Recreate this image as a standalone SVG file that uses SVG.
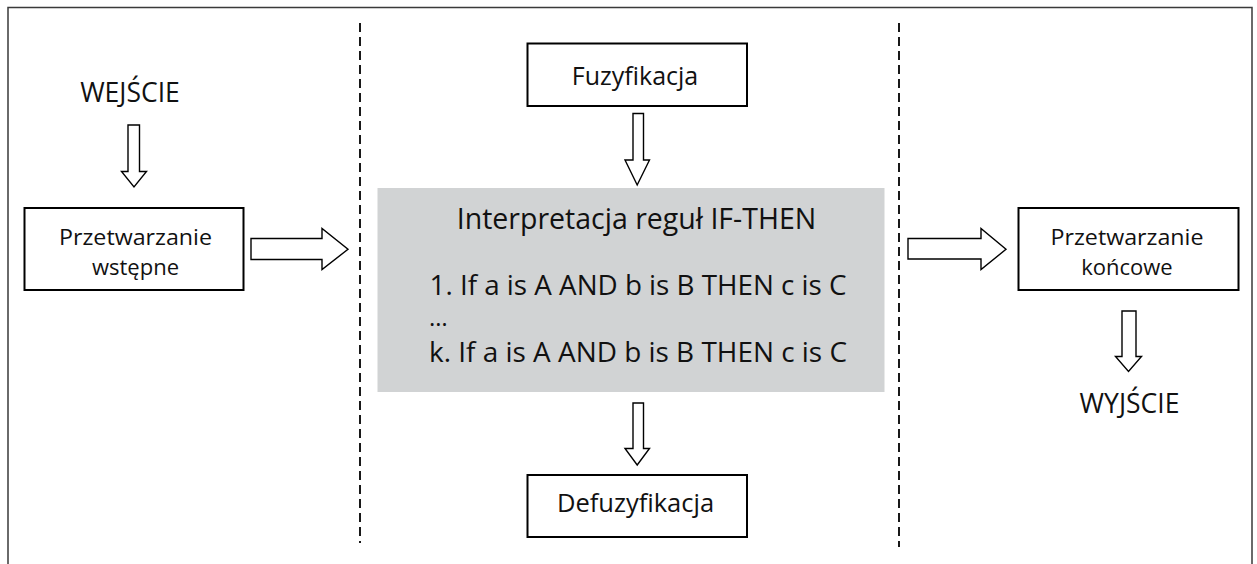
<svg xmlns="http://www.w3.org/2000/svg" width="1257" height="564" viewBox="0 0 1257 564">
<style>
text{font-family:"Open Sans","Noto Sans","DejaVu Sans",sans-serif;fill:#111;}
.box{fill:#fff;stroke:#000;stroke-width:2;}
.arr{fill:#fff;stroke:#000;stroke-width:1.4;stroke-linejoin:miter;}
.dash{stroke:#000;stroke-width:1.8;stroke-dasharray:9 5;fill:none;}
.c{text-anchor:middle;}
.p{font-size:22px;}
</style>
<rect x="0" y="0" width="1257" height="564" fill="#fff"/>
<path d="M8,564 V7.5 H1252 V564" fill="none" stroke="#3a3a3a" stroke-width="1.5"/>
<g id="separators">
<line class="dash" x1="360" y1="23" x2="360" y2="543"/>
<line class="dash" x1="899" y1="23" x2="899" y2="547"/>
</g>
<g id="wejscie"><text class="c" x="130" y="102" font-size="26.5">WEJŚCIE</text></g>
<g id="przetwarzanie-wstepne">
<rect class="box" x="24.5" y="208" width="219" height="82"/>
<text class="c p" x="135.5" y="244.5" textLength="153" lengthAdjust="spacingAndGlyphs">Przetwarzanie</text>
<text class="c p" x="135.5" y="274.5">wstępne</text>
</g>
<g id="fuzyfikacja">
<rect class="box" x="527.5" y="43.5" width="219.5" height="62.5"/>
<text class="c" x="635" y="84.5" font-size="25">Fuzyfikacja</text>
</g>
<g id="interpretacja">
<rect x="377.5" y="188" width="507" height="204" fill="#d1d3d4"/>
<text class="c" x="636.5" y="229" font-size="28.5">Interpretacja reguł IF-THEN</text>
<text x="429.5" y="295" font-size="28" textLength="417" lengthAdjust="spacingAndGlyphs">1. If a is A AND b is B THEN c is C</text>
<text x="429" y="326" font-size="24">…</text>
<text x="429" y="362" font-size="28" textLength="418" lengthAdjust="spacingAndGlyphs">k. If a is A AND b is B THEN c is C</text>
</g>
<g id="defuzyfikacja">
<rect class="box" x="527.5" y="475" width="219.5" height="62"/>
<text class="c" x="635.5" y="512" font-size="25.5">Defuzyfikacja</text>
</g>
<g id="przetwarzanie-koncowe">
<rect class="box" x="1018.5" y="208" width="220" height="82"/>
<text class="c p" x="1127" y="244.5" textLength="153" lengthAdjust="spacingAndGlyphs">Przetwarzanie</text>
<text class="c p" x="1127" y="274.5">końcowe</text>
</g>
<g id="wyjscie"><text class="c" x="1129.5" y="412.5" font-size="26.5">WYJŚCIE</text></g>
<g id="connectors">
<path class="arr" d="M128,125 H139.5 V171.5 H146.5 L134,187 L121.5,171.5 H128 Z"/>
<path class="arr" d="M251,238.5 H322 V228.5 L348,249.3 L322,269.5 V259.5 H251 Z"/>
<path class="arr" d="M633,113.5 H643.5 V160 H649.5 L637.2,185 L625,160 H633 Z"/>
<path class="arr" d="M633,403 H643.5 V448.5 H649.5 L637.2,465 L625,448.5 H633 Z"/>
<path class="arr" d="M908,238.5 H981 V228.5 L1006,249.3 L981,269.5 V259 H908 Z"/>
<path class="arr" d="M1122,311 H1136 V356.5 H1141.5 L1128.5,371.5 L1115.5,356.5 H1122 Z"/>
</g>
</svg>
